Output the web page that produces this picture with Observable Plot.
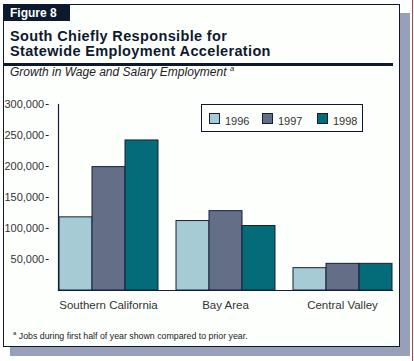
<!DOCTYPE html>
<html>
<head>
<meta charset="utf-8">
<script src="https://cdn.jsdelivr.net/npm/d3@7"></script>
<script src="https://cdn.jsdelivr.net/npm/@observablehq/plot@0.6"></script>
<style>
  html, body { margin: 0; padding: 0; background: #ffffff; }
  body { width: 414px; height: 361px; position: relative; overflow: hidden; font-family: "Liberation Sans", Arial, Helvetica, sans-serif; }
  .abs { position: absolute; }
  #shadow { left: 10px; top: 13px; width: 400px; height: 343px; background: #97a0b8; }
  #frame { left: 3px; top: 4px; width: 397px; height: 343px; box-sizing: border-box; border: 1.5px solid #0d1a2e; background: #fdfffd; }
  #redline { left: 412px; top: 0; width: 1px; height: 361px; background: #c23a3a; }
  #figlabel { left: 3px; top: 4px; width: 67px; height: 17px; background: #0d1a2e; color: #fff; font-weight: bold; font-size: 12px; line-height: 12px; }
  #figlabel span { position: absolute; left: 7px; top: 3.2px; }
  #title { left: 10px; top: 29.2px; font-weight: bold; font-size: 14.5px; line-height: 14.5px; letter-spacing: 0.35px; color: #0d1a2e; white-space: nowrap; }
  #titlerule { left: 3px; top: 63px; width: 390px; height: 3px; background: #0d1a2e; }
  #subtitle { left: 10px; top: 66.3px; font-style: italic; font-size: 12px; line-height: 12px; color: #222; white-space: nowrap; }
  #subtitle sup { font-size: 7.5px; vertical-align: 5px; line-height: 0; }
  #chart { left: 0; top: 95px; }
  #legend { left: 201px; top: 104px; width: 162px; height: 28px; box-sizing: border-box; border: 1px solid #0d1a2e; background: #fdfffd; }
  .sw { position: absolute; top: 8.3px; width: 11px; height: 11px; box-sizing: border-box; border: 1px solid #14203a; }
  .lt { position: absolute; top: 10.7px; font-size: 11px; line-height: 11px; color: #333; }
  #footnote { left: 13px; top: 332.4px; font-size: 8.8px; line-height: 9px; color: #222; white-space: nowrap; }
  #footnote sup { font-size: 6px; vertical-align: 4px; line-height: 0; }
</style>
</head>
<body>
<div id="shadow" class="abs"></div>
<div id="frame" class="abs"></div>
<div id="redline" class="abs"></div>
<div id="figlabel" class="abs"><span>Figure 8</span></div>
<div id="title" class="abs">South Chiefly Responsible for<br>Statewide Employment Acceleration</div>
<div id="titlerule" class="abs"></div>
<div id="subtitle" class="abs">Growth in Wage and Salary Employment <sup>a</sup></div>
<div id="chart" class="abs"></div>
<div id="legend" class="abs"></div>
<div id="footnote" class="abs"><sup>a</sup> Jobs during first half of year shown compared to prior year.</div>
<script>
// ---- data ----
const regions = ["Southern California", "Bay Area", "Central Valley"];
const years = ["1996", "1997", "1998"];
const southernCalifornia = [118000, 199000, 242000];
const bayArea = [112000, 128000, 104000];
const centralValley = [36000, 43000, 43000];
const yTicks = [50000, 100000, 150000, 200000, 250000, 300000];
const yearColors = ["#a6cbd4", "#646e87", "#046b79"];

const rows = [];
[southernCalifornia, bayArea, centralValley].forEach((vals, i) =>
  vals.forEach((v, j) => rows.push({region: regions[i], year: years[j], value: v}))
);

const ink = "#14203a";

const chart = Plot.plot({
  width: 414,
  height: 225,
  marginLeft: 48,
  marginRight: 17,
  marginTop: 9,
  marginBottom: 30,
  style: {fontFamily: "'Liberation Sans', Arial, Helvetica, sans-serif", background: "transparent", overflow: "visible"},
  fx: {domain: regions, range: [57.3, 393.3], paddingInner: 0.142, paddingOuter: 0, axis: null, label: null},
  x: {domain: years, padding: 0, axis: null},
  y: {domain: [0, 300000], axis: null},
  color: {domain: years, range: yearColors},
  marks: [
    Plot.barY(rows, {fx: "region", x: "year", y: "value", fill: "year", stroke: ink, strokeWidth: 1}),
    Plot.axisFx({anchor: "bottom", tickSize: 0, tickPadding: 10, fontSize: 11.5, label: null, color: "#333"}),
    Plot.axisY({ticks: yTicks, tickFormat: d3.format(","), tickSize: 3, tickPadding: 2, fontSize: 11, label: null, color: "#333", stroke: ink, dx: -9.3}),
    Plot.frame({facet: "super", anchor: "left", stroke: ink, strokeWidth: 1.2}),
    Plot.frame({facet: "super", anchor: "bottom", stroke: ink, strokeWidth: 1.2})
  ]
});
document.getElementById("chart").appendChild(chart);

// ---- legend ----
const legend = document.getElementById("legend");
const swX = [7.3, 60.3, 115];
const ltX = [23, 76, 131];
years.forEach((y, i) => {
  const s = document.createElement("div");
  s.className = "sw";
  s.style.left = swX[i] + "px";
  s.style.background = yearColors[i];
  legend.appendChild(s);
  const t = document.createElement("div");
  t.className = "lt";
  t.style.left = ltX[i] + "px";
  t.textContent = y;
  legend.appendChild(t);
});
</script>
</body>
</html>
